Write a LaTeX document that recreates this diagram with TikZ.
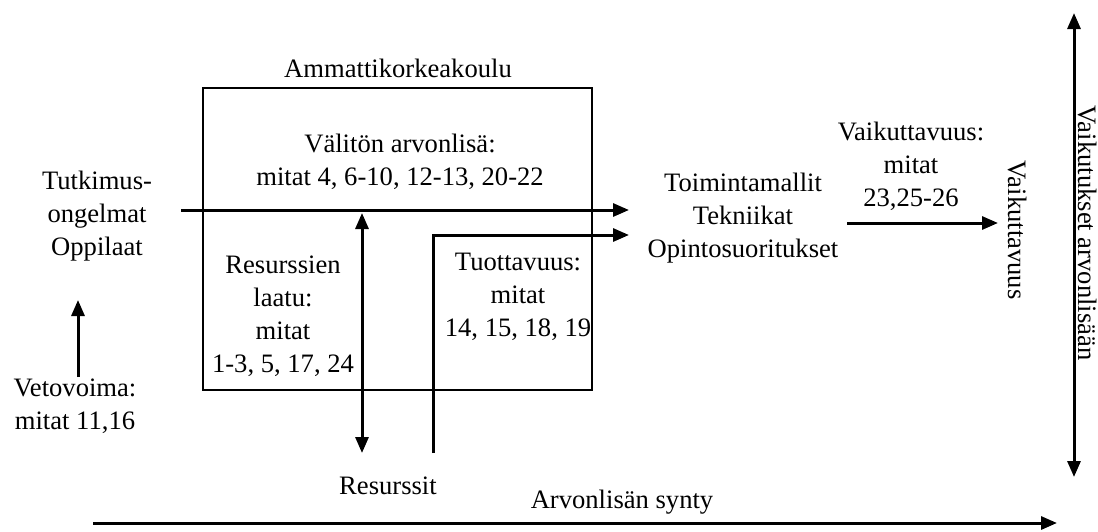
\documentclass[tikz,border=0pt]{standalone}
\usepackage{fontspec}
\setmainfont{Liberation Serif}
\usetikzlibrary{arrows.meta, positioning}
\tikzset{
	lbl/.style = {align=center, font=\fontsize{13.3}{16.5}\selectfont, inner sep=0pt},
	arr/.style = {line width=1.5pt, -{Triangle[length=8pt,width=6.5pt]}},
	darr/.style = {line width=1.5pt, {Triangle[length=8pt,width=6.5pt]}-{Triangle[length=8pt,width=6.5pt]}},
	boxline/.style = {draw, line width=1pt, inner sep=0pt}
}
\begin{document}
\begin{tikzpicture}[x=0.5pt,y=-0.5pt]
\useasboundingbox (0,0) rectangle (1098,531);
% the school box and its texts
\node[boxline, minimum width=194.5pt, minimum height=151pt] (amk) at (397.5,239) {};
\node[lbl] (amktitle) at (398,68) {Ammattikorkeakoulu};
\node[lbl] (valiton) at (400,162) {Välitön arvonlisä:\\mitat 4, 6-10, 12-13, 20-22};
\node[lbl] (laatu) at (283,316) {Resurssien\\laatu:\\mitat\\1-3, 5, 17, 24};
\node[lbl] (tuott) at (518,297) {Tuottavuus:\\mitat\\14, 15, 18, 19};
% inputs and outputs
\node[lbl] (tutk) at (97,216) {Tutkimus-\\ongelmat\\Oppilaat};
\node[lbl] (veto) at (75,406) {Vetovoima:\\mitat 11,16};
\node[lbl] (toim) at (743,218) {Toimintamallit\\Tekniikat\\Opintosuoritukset};
\node[lbl] (vaik) at (911,166) {Vaikuttavuus:\\mitat\\23,25-26};
\node[lbl, rotate=-90] (vaikrot) at (1018,230) {Vaikuttavuus};
\node[lbl, rotate=-90] (vaikarv) at (1088,233) {Vaikutukset arvonlisään};
\node[lbl] (resurssit) at (388,486) {Resurssit};
\node[lbl] (synty) at (622,502) {Arvonlisän synty};
% connector ends
\coordinate (in1) at (181,210);
\coordinate (out1) at (629,210);
\coordinate (res2) at (433,453);
\coordinate (out2) at (629,235);
\coordinate (laatutop) at (362,213);
\coordinate (laatubot) at (362,453);
\coordinate (vetobot) at (78,377);
\coordinate (vetotop) at (78,300);
\coordinate (vaikin) at (847,223);
\coordinate (vaikout) at (998,223);
\coordinate (syntyin) at (93,523);
\coordinate (syntyout) at (1057,523);
\coordinate (arvtop) at (1074,13);
\coordinate (arvbot) at (1074,477);
% arrows
\draw[arr] (in1) -- (out1);
\draw[arr] (res2) |- (out2);
\draw[darr] (laatutop) -- (laatubot);
\draw[arr] (vetobot) -- (vetotop);
\draw[arr] (vaikin) -- (vaikout);
\draw[arr] (syntyin) -- (syntyout);
\draw[darr] (arvtop) -- (arvbot);
\end{tikzpicture}
\end{document}
